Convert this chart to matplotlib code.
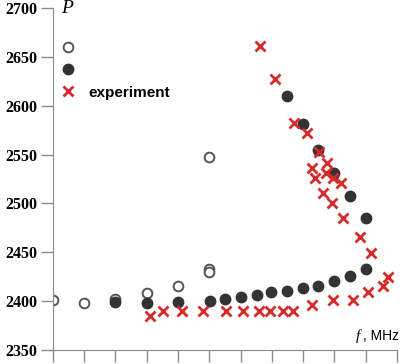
import matplotlib
matplotlib.use('Agg')
import matplotlib.pyplot as plt
from matplotlib.lines import Line2D

# f in tick units (11 equal divisions on the axis), P values
open_f = [0.0, 1.0, 2.0, 3.0, 4.0, 5.0, 5.0, 5.0]
open_p = [2401, 2398, 2402, 2408, 2415, 2433, 2430, 2548]

filled_f = [2.0, 3.0, 4.0, 5.02, 5.5, 6.02, 6.53, 6.98, 7.49, 8.0, 8.48, 8.99, 9.5, 10.02,
            7.49, 8.0, 8.48, 8.99, 9.5, 10.02]
filled_p = [2399, 2398, 2399, 2400, 2402, 2404, 2406, 2409, 2410, 2413, 2415, 2421, 2426, 2433,
            2610, 2581, 2555, 2531, 2508, 2485]

exp_f = [3.1, 3.52, 4.13, 4.8, 5.54, 6.08, 6.59, 6.94, 7.36, 7.68, 8.29, 8.96, 9.6, 10.08, 10.56, 10.72,
         6.62, 7.1, 7.71, 8.13, 8.51, 8.77, 8.29, 8.74, 8.38, 8.96, 9.22, 8.64, 8.93, 9.28, 9.82, 10.18]
exp_p = [2385, 2390, 2390, 2390, 2390, 2390, 2390, 2390, 2390, 2390, 2396, 2401, 2401, 2409, 2415, 2425,
         2661, 2627, 2582, 2572, 2553, 2541, 2536, 2531, 2526, 2526, 2521, 2511, 2500, 2485, 2466, 2449]

grey = '#8a8a8a'
red = '#d42a2a'

fig = plt.figure(figsize=(4.01, 3.64), dpi=100)
ax = fig.add_axes([0.132, 0.0385, 0.858, 0.9395])

ax.plot(open_f, open_p, 'o', ms=7, mfc='white', mec='#555555', mew=1.4, ls='none')
ax.plot(filled_f, filled_p, 'o', ms=7.5, color='#333333', ls='none')
ax.plot(exp_f, exp_p, 'x', ms=6.5, mew=2, color=red, ls='none')

ax.set_xlim(0, 11)
ax.set_ylim(2350, 2700)
ax.set_xticks(range(12))
ax.set_xticklabels([])
ax.set_yticks([2350, 2400, 2450, 2500, 2550, 2600, 2650, 2700])
ax.tick_params(axis='both', direction='out', length=8.5, width=1, color=grey)
ax.tick_params(axis='y', pad=3)
for lab in ax.get_yticklabels():
	lab.set_fontfamily('Liberation Serif')
	lab.set_fontweight('bold')
	lab.set_fontsize(11.5)
ax.spines['top'].set_visible(False)
ax.spines['right'].set_visible(False)
ax.spines['left'].set_color(grey)
ax.spines['bottom'].set_color(grey)

ax.text(0.025, 1.0, 'P', transform=ax.transAxes, fontfamily='Liberation Serif',
	style='italic', fontsize=14, va='center', ha='left')
ax.text(0.88, 0.04, 'f', transform=ax.transAxes, fontfamily='Liberation Serif',
	style='italic', fontsize=11, va='center', ha='left')
ax.text(0.9, 0.04, ', MHz', transform=ax.transAxes, fontfamily='Liberation Sans',
	fontsize=10, va='center', ha='left')

handles = [
	Line2D([], [], marker='o', ls='none', ms=7, mfc='white', mec='#555555', mew=1.4),
	Line2D([], [], marker='o', ls='none', ms=7.5, color='#333333'),
	Line2D([], [], marker='x', ls='none', ms=6.5, mew=2, color=red),
]
ax.legend(handles, ['', '', 'experiment'], loc='upper left', bbox_to_anchor=(-0.017, 0.944),
	frameon=False, handlelength=1, handletextpad=0.8, labelspacing=0.55,
	prop={'family': 'Liberation Sans', 'weight': 'bold', 'size': 11})

fig.savefig('out.png', dpi=100)
